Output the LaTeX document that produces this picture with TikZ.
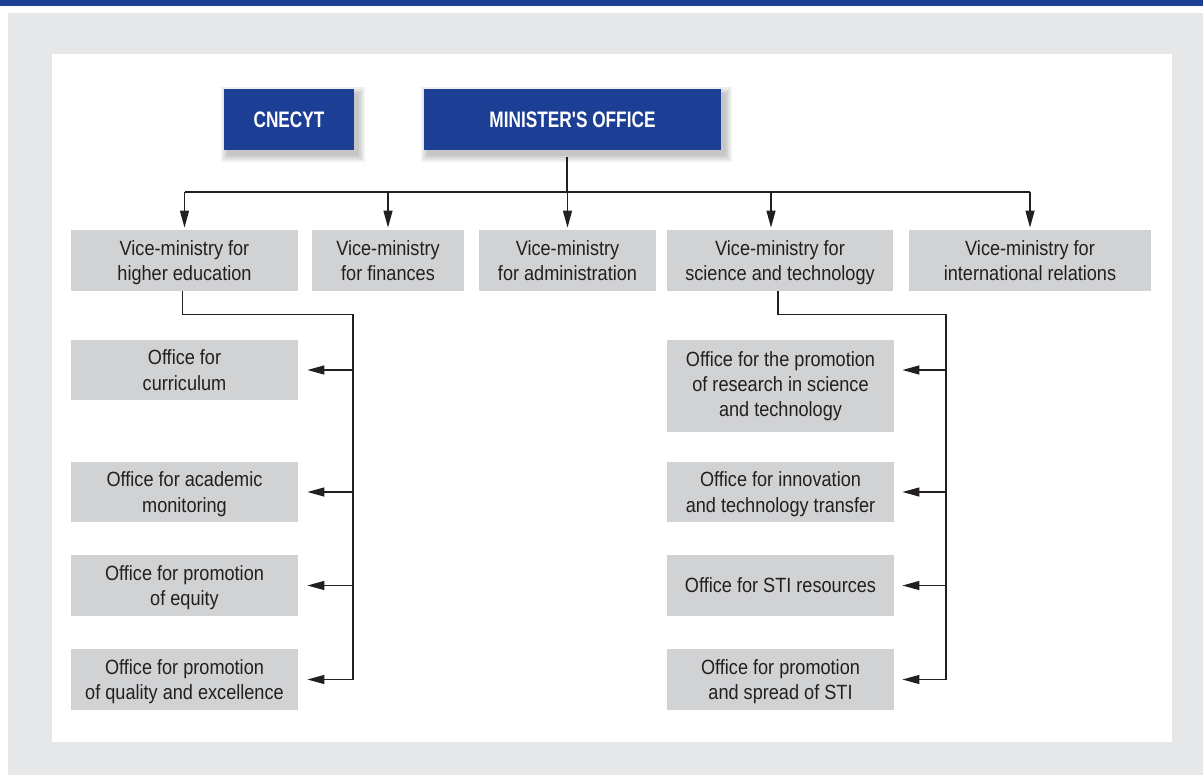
\documentclass[tikz,border=0pt]{standalone}
\usepackage{fontspec}
\setmainfont{Liberation Sans}[FakeStretch=0.88]
\newfontfamily\headfont{Liberation Sans}[FakeStretch=0.77]
\usepackage{tikz}
\usetikzlibrary{positioning}
\usetikzlibrary{arrows.meta}
\usepackage{xcolor}
\definecolor{minblue}{HTML}{1C3E94}
\definecolor{boxgray}{HTML}{D1D2D4}
\definecolor{panelgray}{HTML}{E6E7E8}
\definecolor{inkgray}{HTML}{231F20}
\pgfdeclarelayer{backdrop}
\pgfdeclarelayer{shade}
\pgfsetlayers{backdrop,shade,main}

\begin{document}
\begin{tikzpicture}[x=0.5pt,y=-0.5pt,
    head/.style={fill=minblue, text=white, inner sep=0pt, minimum height=30.5pt,
        font=\headfont\bfseries\fontsize{11.2}{13}\selectfont},
    unit/.style={fill=boxgray, text=inkgray, align=center, inner sep=0pt,
        minimum width=113.5pt, minimum height=30.5pt, text depth=-2.5pt,
        font=\fontsize{10.3}{12.7}\selectfont},
    link/.style={draw=inkgray, line width=0.65pt},
    tip/.style={link, -{Triangle[length=8.5pt,width=4.5pt]}}]
    \useasboundingbox (0,0) rectangle (1203,775);

    % Background
    \begin{pgfonlayer}{backdrop}
    \fill[minblue] (0,0) rectangle (1203,6);
    \fill[panelgray] (8,13) rectangle (1203,775);
    \fill[white] (52,54) rectangle (1172,742);
    \end{pgfonlayer}

    % Top offices
    \node[head, minimum width=65pt] (cnecyt) at (289,119.5) {CNECYT};
    \node[head, minimum width=148.5pt] (minister) at (572.5,119.5) {MINISTER'S OFFICE};

    % Soft shadows of the top offices
    \begin{pgfonlayer}{shade}
    \foreach \n in {cnecyt,minister}
        \foreach \g in {0.5,1.5,2.5,3.5}
            \fill[black, opacity=0.06]
                ([xshift={2pt-\g pt}, yshift={-2.5pt+\g pt}]\n.north west) rectangle
                ([xshift={2pt+\g pt}, yshift={-2.5pt-\g pt}]\n.south east);
    \end{pgfonlayer}

    % Vice-ministries
    \node[unit] (vmhe) at (184.5,260.5) {Vice-ministry for\\higher education};
    \node[unit, minimum width=76pt] (vmfin) at (388,260.5) {Vice-ministry\\for finances};
    \node[unit, minimum width=88.5pt] (vmadm) at (567.5,260.5) {Vice-ministry\\for administration};
    \node[unit, minimum width=113pt] (vmst) at (780,260.5) {Vice-ministry for\\science and technology};
    \node[unit, minimum width=121pt] (vmir) at (1030,260.5) {Vice-ministry for\\international relations};

    % Offices under higher education
    \node[unit, minimum height=30pt] (curric) at (184.5,370) {Office for\\curriculum};
    \node[unit, minimum height=30pt] (monit) at (184.5,492) {Office for academic\\monitoring};
    \node[unit] (equity) at (184.5,585.5) {Office for promotion\\of equity};
    \node[unit] (quality) at (184.5,679.5) {Office for promotion\\of quality and excellence};

    % Offices under science and technology
    \node[unit, minimum height=46pt, text depth=2pt] (research) at (780.5,386) {Office for the promotion\\of research in science\\and technology};
    \node[unit, minimum height=30pt] (innov) at (780.5,492) {Office for innovation\\and technology transfer};
    \node[unit] (stires) at (780.5,585.5) {Office for STI resources};
    \node[unit] (spread) at (780.5,679.5) {Office for promotion\\and spread of STI};

    % Connectors from the minister
    \coordinate (mdrop) at (567,157);
    \coordinate (bus) at (567,192);
    \coordinate (stdrop) at (771,192);
    \draw[link] (mdrop) -- (bus);
    \draw[link] (bus -| vmhe) -- (bus -| vmir);
    \foreach \v in {vmhe,vmfin,vmadm,vmir}
        \draw[tip] (bus -| \v) -- ([yshift=1pt]\v.north);
    \draw[tip] (stdrop) -- ([yshift=1pt]stdrop |- vmst.north);

    % Left branch
    \coordinate (lspine) at (353,679.5);
    \draw[link] ([xshift=-1pt]vmhe.south) -- ++(0,23) -| (lspine);
    \foreach \o in {curric,monit,equity,quality}
        \draw[tip, shorten >=4.5pt] (lspine |- \o) -- (\o.east);

    % Right branch
    \coordinate (rspine) at (946,679.5);
    \draw[link] ([xshift=-1pt]vmst.south) -- ++(0,23) -| (rspine);
    \draw[tip, shorten >=4pt] (rspine |- curric) -- (research.east |- curric);
    \foreach \o in {innov,stires,spread}
        \draw[tip, shorten >=4pt] (rspine |- \o) -- (\o.east);
\end{tikzpicture}
\end{document}
